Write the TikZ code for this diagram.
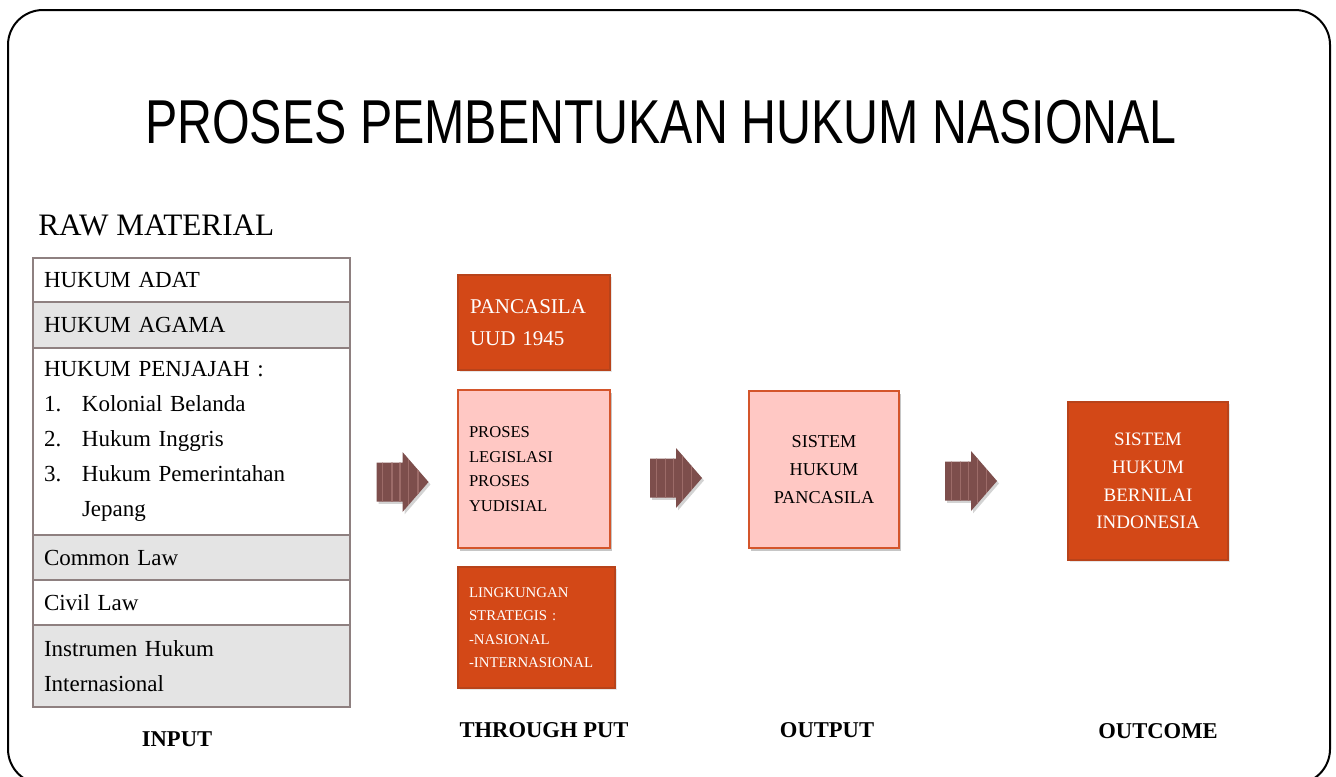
\documentclass[tikz,border=0pt]{standalone}
\usepackage{fontspec}
\setmainfont{Liberation Serif}
\newfontfamily\titlefont{Liberation Sans}
\usetikzlibrary{positioning,shadows,calc}
\definecolor{rustfill}{HTML}{D34817}
\definecolor{rustline}{HTML}{B8431A}
\definecolor{pinkfill}{HTML}{FFC8C4}
\definecolor{pinkline}{HTML}{D4552B}
\definecolor{tableline}{HTML}{8E8080}
\definecolor{rowgray}{HTML}{E4E4E4}
\definecolor{arrowfill}{HTML}{7D4E4C}
\definecolor{arrowstripe}{HTML}{9C6B68}

\tikzset{
  rowbox/.style={draw=tableline, line width=1pt, outer sep=0pt,
    minimum width=158.5pt, text width=147.5pt, inner xsep=5.5pt, inner ysep=0pt,
    align=left, font=\fontsize{11.5}{17.5}\selectfont},
  grayrow/.style={rowbox, fill=rowgray},
  redbox/.style={fill=rustfill, draw=rustline, line width=0.6pt, text=white,
    drop shadow={shadow xshift=0.8pt, shadow yshift=-0.8pt, opacity=0.2}},
  pinkbox/.style={fill=pinkfill, draw=pinkline, line width=1pt,
    drop shadow={shadow xshift=1.2pt, shadow yshift=-1.5pt, opacity=0.45}},
  steplabel/.style={font=\fontsize{11.3}{13}\selectfont\bfseries},
  pics/blockarrow/.style={code={
    \fill[arrowfill, drop shadow={shadow xshift=1pt, shadow yshift=-1.2pt, opacity=0.35},
      path picture={
        \foreach \t in {0.12,0.3,0.45,0.62,0.8}
          \draw[arrowstripe, line width=0.7pt]
            ($(path picture bounding box.north west)!\t!(path picture bounding box.north east)$) -- ++(0,70);
      }]
      (-26,-19.5) -- (0,-19.5) -- (0,-30) -- (26,0) -- (0,30) -- (0,19.5) -- (-26,19.5) -- cycle;
  }}
}

\begin{document}
\begin{tikzpicture}[x=0.5pt,y=-0.5pt]
    \useasboundingbox (0,0) rectangle (1336,776);
    %% bingkai
    \begin{scope}
      \clip (0,0) rectangle (1336,776);
      \draw[line width=1pt, rounded corners=17.5pt] (8,10) rectangle (1330,784);
    \end{scope}
    %% judul
    \node (title) at (661,122)
      {\titlefont\fontsize{31}{31}\selectfont\scalebox{0.78}[1]{PROSES PEMBENTUKAN HUKUM NASIONAL}};
    \node[anchor=west, inner sep=0pt, font=\fontsize{15.6}{17}\selectfont] (raw) at (38,225) {RAW MATERIAL};

    %% tabel input
    \node[rowbox, anchor=north west, minimum height=22pt] (adat) at (33,258) {HUKUM ADAT};
    \node[grayrow, below=0pt of adat, minimum height=23pt] (agama) {HUKUM AGAMA};
    \node[rowbox, below=0pt of agama, minimum height=93.5pt] (penjajah)
      {HUKUM PENJAJAH :\\
       \makebox[19pt][l]{1.}Kolonial Belanda\\
       \makebox[19pt][l]{2.}Hukum Inggris\\
       \makebox[19pt][l]{3.}Hukum Pemerintahan\\
       \hspace*{19pt}Jepang};
    \node[grayrow, below=0pt of penjajah, minimum height=22.5pt] (common) {Common Law};
    \node[rowbox, below=0pt of common, minimum height=22.5pt] (civil) {Civil Law};
    \node[grayrow, below=0pt of civil, minimum height=41pt] (instrumen) {Instrumen Hukum\\Internasional};

    %% through put
    \node[redbox, minimum width=76pt, minimum height=47.5pt, text width=64pt, inner xsep=6pt,
      align=left, font=\fontsize{10.5}{16}\selectfont] (pancasila) at (534,322.5) {PANCASILA\\UUD 1945};
    \node[pinkbox, minimum width=76pt, minimum height=79pt, text width=65pt, inner xsep=5.5pt,
      align=left, font=\fontsize{8.3}{12.25}\selectfont] (proses) at (534,469) {PROSES\\LEGISLASI\\PROSES\\YUDISIAL};
    \node[redbox, minimum width=78.5pt, minimum height=60.5pt, text width=67.5pt, inner xsep=5.5pt,
      align=left, font=\fontsize{7.4}{11.75}\selectfont] (lingkungan) at (536.5,627.5)
      {LINGKUNGAN\\STRATEGIS :\\-NASIONAL\\-INTERNASIONAL};

    %% output & outcome
    \node[pinkbox, minimum width=75pt, minimum height=78.5pt, align=center,
      font=\fontsize{9.1}{14}\selectfont] (sistem) at (824,469.5) {SISTEM\\HUKUM\\PANCASILA};
    \node[redbox, minimum width=80pt, minimum height=79pt, align=center,
      font=\fontsize{9.5}{13.8}\selectfont] (nilai) at (1148,481) {SISTEM\\HUKUM\\BERNILAI\\INDONESIA};

    %% panah
    \pic at (402.5,482) {blockarrow};
    \pic at (676,478) {blockarrow};
    \pic at (971,481) {blockarrow};

    %% label bawah
    \node[steplabel] (input) at (177,739) {INPUT};
    \node[steplabel] (through) at (544,730) {THROUGH PUT};
    \node[steplabel] (output) at (827,730) {OUTPUT};
    \node[steplabel] (outcome) at (1158,731) {OUTCOME};
\end{tikzpicture}
\end{document}
